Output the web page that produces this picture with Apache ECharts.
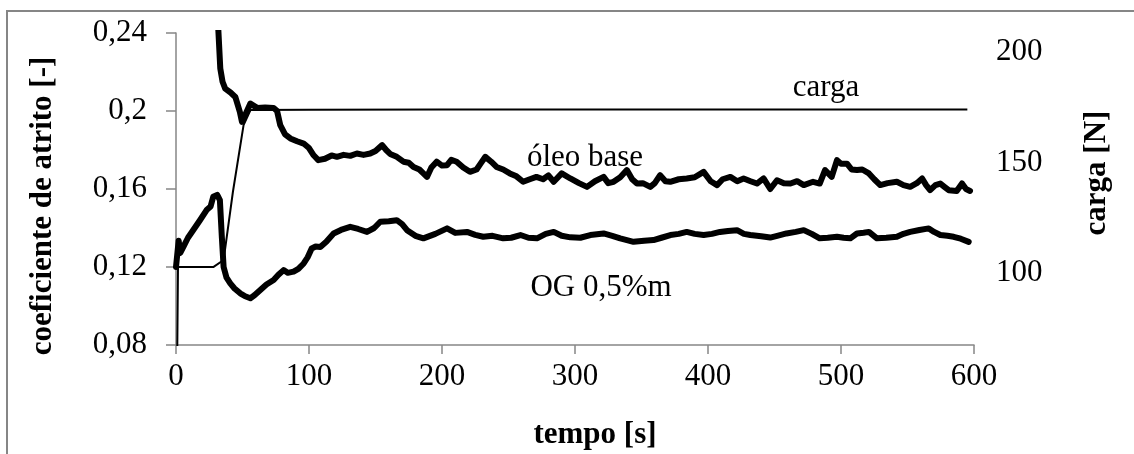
<!DOCTYPE html>
<html>
<head>
<meta charset="utf-8">
<script src="https://cdn.jsdelivr.net/npm/echarts@6/dist/echarts.min.js"></script>
<style>
    html, body { margin: 0; padding: 0; background: #fff; }
    #chart { width: 1134px; height: 454px; }
</style>
</head>
<body>
<div id="chart"></div>
<script>
// tempo [s] / coeficiente de atrito [-] - óleo base
const oleoT = [31.8, 33.3, 35, 37, 41, 44.6, 48, 49.6, 52, 55.9, 61, 67, 73.4, 76, 78.4, 82, 86, 91, 96, 100,
    103.5, 107, 112, 117, 121, 126, 131, 136, 141, 146, 150, 155, 158, 161, 166, 171, 175, 178.6, 183, 186,
    188.7, 192, 196, 200, 203.8, 207, 211, 216, 221, 226, 229, 232.6, 237, 241, 246, 251, 256, 261, 266, 271,
    276, 280, 284, 290, 296.5, 303, 309, 315, 321.5, 325, 329, 334, 339, 343, 346.6, 351, 356.6, 360, 364, 368,
    371.6, 378, 384, 390, 396.7, 402, 406.8, 411, 416.8, 422, 426.8, 432, 436.8, 441.8, 446.8, 451.9, 457, 462, 467, 472,
    479, 484, 488, 493, 497, 500, 504.5, 508, 512, 516, 521, 525, 529.5, 535, 542, 547, 552, 557, 561, 564,
    567, 571, 574.7, 578, 581, 587, 591, 594, 597];
const oleoV = [0.242, 0.2218, 0.215, 0.2115, 0.2095, 0.2072, 0.1995, 0.1944, 0.198, 0.2038, 0.2016, 0.2018, 0.2016, 0.2, 0.1927, 0.188, 0.1859, 0.1845, 0.1833, 0.181,
    0.1773, 0.1748, 0.1755, 0.1772, 0.1765, 0.1775, 0.177, 0.1782, 0.1775, 0.1782, 0.1795, 0.1825, 0.18, 0.178, 0.1765, 0.174, 0.1735, 0.1713, 0.17, 0.168,
    0.1662, 0.171, 0.174, 0.172, 0.1722, 0.175, 0.174, 0.171, 0.1688, 0.17, 0.173, 0.1765, 0.174, 0.1713, 0.17, 0.168, 0.1665, 0.1637, 0.165, 0.1662,
    0.165, 0.167, 0.1637, 0.168, 0.1654, 0.163, 0.1611, 0.164, 0.1662, 0.163, 0.1637, 0.166, 0.1697, 0.165, 0.1628, 0.163, 0.1611, 0.163, 0.1671, 0.164,
    0.1637, 0.165, 0.1654, 0.166, 0.1688, 0.164, 0.162, 0.165, 0.1662, 0.164, 0.1654, 0.164, 0.1628, 0.1654, 0.16, 0.1645, 0.163, 0.1628, 0.164, 0.162,
    0.1637, 0.1628, 0.1697, 0.1662, 0.1748, 0.173, 0.173, 0.17, 0.1697, 0.17, 0.168, 0.165, 0.162, 0.163, 0.1637, 0.162, 0.1611, 0.163, 0.1654, 0.162,
    0.1594, 0.162, 0.1628, 0.161, 0.1594, 0.159, 0.1628, 0.16, 0.159];

// OG 0,5%m
const ogT = [0, 0.75, 2, 3.2, 6, 9, 13, 18, 23, 26, 28, 31, 33, 34.5, 35.8, 38, 40.8, 44, 48.3, 52,
    55.9, 59, 63.4, 68, 73.4, 77, 80.9, 84, 88.4, 92, 96, 99, 102, 105, 108.5, 113, 118.5, 124, 131, 137,
    143.6, 149, 153.6, 160, 166, 170, 173.7, 180, 186, 195, 203.8, 210, 218.8, 225, 231, 238, 246, 252, 259, 265,
    271.4, 278, 284, 290, 296.5, 304, 311.5, 321.5, 328, 334, 344, 352, 359, 365, 371.7, 378, 384, 390, 396.7, 403,
    409, 415, 421.8, 427, 431.8, 440, 446.8, 452, 459, 466, 472, 478, 484, 490, 497, 502, 507, 512, 517, 521,
    527, 534, 542, 547, 552, 559, 566, 570, 574.7, 580, 584.7, 590, 596];
const ogV = [0.12, 0.121, 0.1335, 0.1272, 0.131, 0.135, 0.139, 0.144, 0.1492, 0.151, 0.156, 0.157, 0.1543, 0.135, 0.12, 0.1145, 0.1116, 0.109, 0.1065, 0.105,
    0.104, 0.1055, 0.1082, 0.111, 0.1133, 0.116, 0.1184, 0.117, 0.1176, 0.119, 0.1218, 0.125, 0.1295, 0.1305, 0.1303, 0.133, 0.1372, 0.139, 0.1406, 0.1395,
    0.138, 0.14, 0.1432, 0.1435, 0.144, 0.142, 0.1389, 0.136, 0.1347, 0.137, 0.1398, 0.1375, 0.138, 0.1365, 0.1355, 0.136, 0.1347, 0.135, 0.1364, 0.135,
    0.1347, 0.137, 0.138, 0.136, 0.1352, 0.135, 0.1364, 0.1372, 0.136, 0.1347, 0.1329, 0.1335, 0.1338, 0.135, 0.1364, 0.137, 0.138, 0.137, 0.1364, 0.137,
    0.138, 0.1385, 0.1389, 0.137, 0.1364, 0.1358, 0.1351, 0.136, 0.1372, 0.138, 0.1389, 0.137, 0.1347, 0.135, 0.1355, 0.135, 0.1347, 0.1372, 0.1376, 0.138,
    0.1347, 0.135, 0.1355, 0.137, 0.138, 0.139, 0.1398, 0.138, 0.1364, 0.136, 0.1355, 0.1345, 0.1329];

// carga [N]
const cargaT = [0, 1.5, 28, 35.8, 42.8, 50.8, 56, 100, 200, 300, 400, 500, 595];
const cargaV = [0, 102.7, 102.7, 105.9, 136.8, 167, 173.8, 173.9, 174, 174.1, 174.1, 174.1, 174.1];

const cargaTicks = [100, 150, 200];

const zip = (xs, ys) => xs.map((x, i) => [x, ys[i]]);

const font = 'Liberation Serif';
const axisGray = '#868686';

const chart = echarts.init(document.getElementById('chart'), null, { renderer: 'canvas' });

const option = {
    animation: false,
    backgroundColor: '#fff',
    grid: { left: 176, right: 160, top: 33, bottom: 109 },
    xAxis: {
        type: 'value',
        min: 0,
        max: 600,
        interval: 100,
        axisLine: { lineStyle: { color: axisGray, width: 1.5 } },
        axisTick: { length: 9, lineStyle: { color: axisGray, width: 1.5 } },
        splitLine: { show: false },
        axisLabel: { color: '#000', fontFamily: font, fontSize: 31, margin: 16 }
    },
    yAxis: [
        {
            type: 'value',
            min: 0.08,
            max: 0.24,
            interval: 0.04,
            axisLine: { show: true, lineStyle: { color: axisGray, width: 1.5 } },
            axisTick: { show: true, length: 10, lineStyle: { color: axisGray, width: 1.5 } },
            splitLine: { show: false },
            axisLabel: {
                color: '#000', fontFamily: font, fontSize: 31, margin: 29,
                formatter: v => String(Math.round(v * 100) / 100).replace('.', ',')
            }
        },
        {
            type: 'value',
            min: 67.4,
            max: 208.7,
            position: 'right',
            axisLine: { show: false },
            axisTick: { show: false },
            splitLine: { show: false },
            axisLabel: {
                color: '#000', fontFamily: font, fontSize: 31, margin: 22,
                customValues: cargaTicks
            }
        }
    ],
    graphic: [
        {
            type: 'rect',
            shape: { x: 7, y: 11, width: 1300, height: 600 },
            style: { fill: 'none', stroke: axisGray, lineWidth: 2 },
            silent: true
        },
        {
            type: 'text', x: 43, y: 206, rotation: Math.PI / 2,
            style: { text: 'coeficiente de atrito [-]', font: 'bold 31px "Liberation Serif"', fill: '#000', align: 'center', verticalAlign: 'middle' }
        },
        {
            type: 'text', x: 1097, y: 173, rotation: Math.PI / 2,
            style: { text: 'carga [N]', font: 'bold 31px "Liberation Serif"', fill: '#000', align: 'center', verticalAlign: 'middle' }
        },
        {
            type: 'text', x: 595, y: 435,
            style: { text: 'tempo [s]', font: 'bold 31px "Liberation Serif"', fill: '#000', align: 'center', verticalAlign: 'middle' }
        },
        {
            type: 'text', x: 826, y: 88,
            style: { text: 'carga', font: '31px "Liberation Serif"', fill: '#000', align: 'center', verticalAlign: 'middle' }
        },
        {
            type: 'text', x: 585, y: 158,
            style: { text: 'óleo base', font: '31px "Liberation Serif"', fill: '#000', align: 'center', verticalAlign: 'middle' }
        },
        {
            type: 'text', x: 601, y: 288,
            style: { text: 'OG 0,5%m', font: '31px "Liberation Serif"', fill: '#000', align: 'center', verticalAlign: 'middle' }
        }
    ],
    series: [
        {
            name: 'carga',
            type: 'line',
            yAxisIndex: 1,
            showSymbol: false,
            clip: true,
            lineStyle: { color: '#000', width: 2 },
            data: zip(cargaT, cargaV)
        },
        {
            name: 'óleo base',
            type: 'line',
            showSymbol: false,
            clip: true,
            lineStyle: { color: '#000', width: 6, cap: 'round', join: 'round' },
            data: zip(oleoT, oleoV)
        },
        {
            name: 'OG 0,5%m',
            type: 'line',
            showSymbol: false,
            clip: true,
            lineStyle: { color: '#000', width: 6, cap: 'round', join: 'round' },
            data: zip(ogT, ogV)
        }
    ]
};

chart.setOption(option);
</script>
</body>
</html>
